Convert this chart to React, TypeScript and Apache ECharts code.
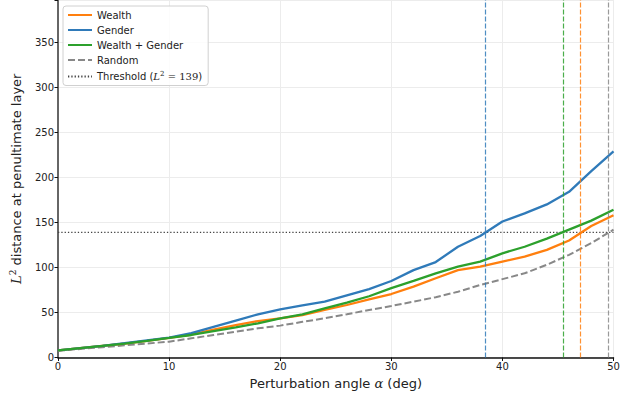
import React, { useEffect, useRef } from "react";
import * as echarts from "echarts";

const angles = [0, 2, 4, 6, 8, 10, 12, 14, 16, 18, 20, 22, 24, 26, 28, 30, 32, 34, 36, 38, 40, 42, 44, 46, 48, 50];
const wealth = [8, 10.5, 13, 15.5, 18.5, 21.7, 25.5, 31, 36, 40.5, 43.5, 47, 52.8, 58.3, 64.6, 70.5, 78.7, 88, 97, 101, 106.5, 112, 119.5, 130, 146, 158];
const gender = [8, 10.5, 13, 16, 19, 22, 27, 34, 41, 48, 53.5, 58, 62, 69, 76, 85, 97, 106, 123, 135, 151, 160, 170, 184, 207, 229];
const wealthGender = [8, 10.5, 13, 15.5, 18.5, 21.7, 25, 29.4, 33.5, 38, 43.5, 48, 54.5, 61, 68, 77, 85, 93.5, 101, 106.5, 115.7, 123, 132, 142, 152, 164];
const random = [7.5, 9.5, 11.5, 13.5, 15.5, 17.6, 21.3, 25, 28.7, 32.4, 35.4, 39.6, 43.5, 48, 52.8, 57.2, 62, 67, 73, 80.5, 87, 93.5, 103, 114, 127, 142];
const threshold = 139;
// angle at which each series crosses the threshold
const crossings = { wealth: 47, gender: 38.5, wealthGender: 45.5, random: 49.5 };

const xTicks = [0, 10, 20, 30, 40, 50];
const yTicks = [0, 50, 100, 150, 200, 250, 300, 350];

const FONT = "DejaVu Sans";
const SERIF = "DejaVu Serif";

function vline(x: number, color: string) {
  return {
    silent: true,
    symbol: ["none", "none"],
    label: { show: false },
    lineStyle: { color, type: [5, 2], width: 1.2, opacity: 0.85 },
    data: [{ xAxis: x }],
  };
}

export default function App() {
  const ref = useRef<HTMLDivElement>(null);
  useEffect(() => {
    if (!ref.current) return;
    const chart = echarts.init(ref.current, undefined, { renderer: "svg" });
    const pair = (arr: number[]) => angles.map((a, i) => [a, arr[i]]);
    const mathRich = {
      i: { fontFamily: SERIF, fontStyle: "italic", fontSize: 10, color: "#222" },
      s: { fontFamily: SERIF, fontSize: 7, color: "#222", padding: [0, 0, 6, 0] },
      m: { fontFamily: SERIF, fontSize: 10, color: "#222" },
    };
    chart.setOption({
      animation: false,
      backgroundColor: "#fff",
      grid: { left: 57.5, right: 20.5, top: 0, bottom: 42.5, containLabel: false },
      legend: {
        orient: "vertical",
        left: 63,
        top: 6,
        padding: [4, 6, 4, 4],
        itemWidth: 24,
        itemHeight: 10,
        itemGap: 5,
        backgroundColor: "rgba(255,255,255,0.85)",
        borderColor: "#d0d0d0",
        borderWidth: 1,
        borderRadius: 3,
        itemStyle: { opacity: 0 },
        textStyle: { fontFamily: FONT, fontSize: 10, color: "#222", rich: mathRich },
        data: ["Wealth", "Gender", "Wealth + Gender", "Random", "Threshold"],
        formatter: (name: string) =>
          name === "Threshold" ? "Threshold ({i|L}{s|2}{m| = 139})" : name,
      },
      xAxis: {
        type: "value",
        min: 0,
        max: 50,
        interval: 10,
        name: "Perturbation angle {a|α} (deg)",
        nameLocation: "middle",
        nameGap: 19,
        nameTextStyle: {
          fontFamily: FONT,
          fontSize: 13,
          color: "#222",
          rich: { a: { fontFamily: SERIF, fontStyle: "italic", fontSize: 13, color: "#222" } },
        },
        axisLine: { show: true, onZero: false, lineStyle: { color: "#111", width: 1.5 } },
        axisTick: { show: true, length: 3.5, lineStyle: { color: "#111", width: 1 } },
        axisLabel: {
          fontFamily: FONT,
          fontSize: 10,
          color: "#222",
          margin: 4,
          formatter: (v: number) => (xTicks.includes(v) ? String(v) : ""),
        },
        splitLine: { show: true, lineStyle: { color: "#ececec", width: 1 } },
      },
      yAxis: {
        type: "value",
        min: 0,
        max: 397,
        interval: 50,
        name: "{i|L}{s|2} distance at penultimate layer",
        nameLocation: "middle",
        nameGap: 34,
        nameTextStyle: {
          fontFamily: FONT,
          fontSize: 13,
          color: "#222",
          rich: {
            i: { fontFamily: SERIF, fontStyle: "italic", fontSize: 13, color: "#222" },
            s: { fontFamily: SERIF, fontSize: 9, color: "#222", padding: [0, 0, 7, 0] },
          },
        },
        axisLine: { show: true, onZero: false, lineStyle: { color: "#666", width: 2 } },
        axisTick: { show: true, length: 3.5, lineStyle: { color: "#111", width: 1 } },
        axisLabel: {
          fontFamily: FONT,
          fontSize: 10,
          color: "#222",
          margin: 4,
          formatter: (v: number) => (yTicks.includes(v) ? String(v) : ""),
        },
        splitLine: { show: true, lineStyle: { color: "#ececec", width: 1 } },
      },
      series: [
        {
          name: "Wealth",
          type: "line",
          data: pair(wealth),
          symbol: "none",
          z: 4,
          lineStyle: { color: "#ff7f0e", width: 2.3 },
          itemStyle: { color: "#ff7f0e" },
          markLine: vline(crossings.wealth, "#ff7f0e"),
        },
        {
          name: "Gender",
          type: "line",
          data: pair(gender),
          symbol: "none",
          z: 4,
          lineStyle: { color: "#2f7ab9", width: 2.3 },
          itemStyle: { color: "#2f7ab9" },
          markLine: vline(crossings.gender, "#2f7ab9"),
        },
        {
          name: "Wealth + Gender",
          type: "line",
          data: pair(wealthGender),
          symbol: "none",
          z: 4,
          lineStyle: { color: "#2ca02c", width: 2.3 },
          itemStyle: { color: "#2ca02c" },
          markLine: vline(crossings.wealthGender, "#2ca02c"),
        },
        {
          name: "Random",
          type: "line",
          data: pair(random),
          symbol: "none",
          z: 3,
          lineStyle: { color: "#888888", width: 2, type: [7, 3] },
          itemStyle: { color: "#888888" },
          markLine: vline(crossings.random, "#888888"),
        },
        {
          name: "Threshold",
          type: "line",
          data: [[0, threshold], [50, threshold]],
          symbol: "none",
          z: 2,
          lineStyle: { color: "#444", width: 1.3, type: [1.3, 2] },
          itemStyle: { color: "#444" },
        },
      ],
    });
    return () => chart.dispose();
  }, []);
  return (
    <div
      ref={ref}
      style={{ position: "absolute", left: 0, top: 0, width: 634, height: 400 }}
    />
  );
}
